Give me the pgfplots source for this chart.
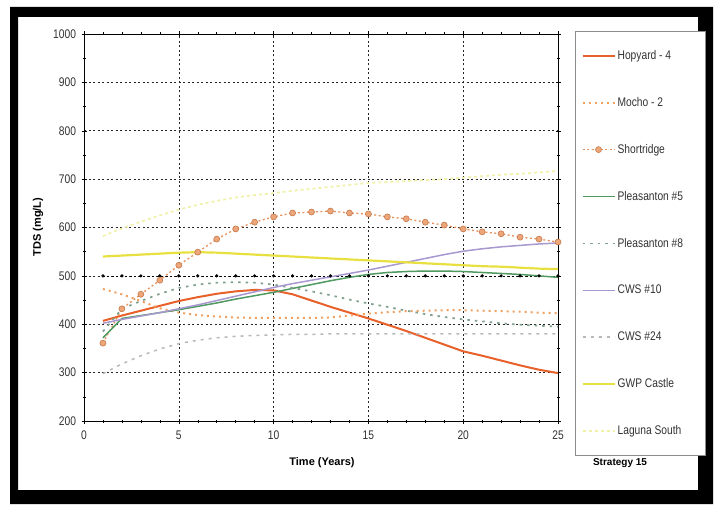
\documentclass[border=0pt]{standalone}
\usepackage{pgfplots}
\pgfplotsset{compat=1.18}
\usepackage{pgfplotstable}
\usepackage{fontspec}
\setmainfont{Liberation Sans}
\newfontfamily\narrowfont{Liberation Sans}[FakeStretch=0.82]
\definecolor{hop}{HTML}{E8602A}
\definecolor{mocho}{HTML}{F0A060}
\definecolor{shore}{HTML}{E8905A}
\definecolor{shorefill}{HTML}{EDA57A}
\definecolor{p5}{HTML}{4E9A60}
\definecolor{p8}{HTML}{7FA08A}
\definecolor{cws10}{HTML}{A898D0}
\definecolor{cws24}{HTML}{B8B8B8}
\definecolor{gwp}{HTML}{E8E040}
\definecolor{lag}{HTML}{F0F0A8}
\pgfplotstableread{
t hop mocho shore p5 p8 c10 c24 gwp lag
1 407 473 361 372 385 402 298 540 582
2 418 462 432 412 432 410 318 542 598
3 428 448 462 418 448 417 335 544 612
4 438 433 491 424 463 424 349 546 625
5 448 424 522 430 475 432 360 548 637
6 456 419 549 437 482 440 367 549 647
7 463 416 576 444 486 449 372 548 655
8 468 414 597 452 487 458 375 546 662
9 471 413 611 459 486 467 377 544 667
10 470 413 622 466 482 476 378 542 671
11 462 413 630 474 475 484 379 540 676
12 449 413 632 482 468 491 379 538 680
13 436 414 634 490 460 498 380 536 684
14 424 418 630 497 451 505 380 534 688
15 412 422 628 503 443 512 380 532 692
16 399 425 622 507 436 520 380 530 694
17 386 427 618 509 428 528 380 528 696
18 372 428 611 510 421 536 380 526 698
19 358 429 605 510 415 544 380 524 700
20 344 429 597 509 410 551 380 522 703
21 335 428 591 507 406 556 380 520 706
22 325 427 587 505 402 560 380 519 709
23 315 426 580 503 399 563 380 517 711
24 306 424 576 500 397 566 380 515 714
25 299 423 570 497 395 568 380 514 717
}\datatable
\pgfplotstableread{
t v
1 500
2 500
3 500
4 500
5 500
6 500
7 500
8 500
9 500
10 500
11 500
12 500
13 500
14 500
15 500
16 500
17 500
18 500
19 500
20 500
21 500
22 500
23 500
24 500
25 500
}\fivehundred
\begin{document}
\begin{tikzpicture}[x=1pt,y=1pt]
\path[use as bounding box] (0,0) rectangle (719,504);
\fill[black,even odd rule] (10,0) rectangle (713,497) (18,14) rectangle (698,487);
\begin{axis}[
  at={(84pt,83pt)}, anchor=south west,
  scale only axis, width=474pt, height=387pt,
  xmin=0, xmax=25, ymin=200, ymax=1000,
  xtick={0,5,...,25}, ytick={200,300,...,1000},
  minor x tick num=4, minor y tick num=1,
  tick align=center,
  tick style={black, line width=0.5pt},
  major tick length=5pt, minor tick length=3pt,
  grid=major,
  major grid style={black!85, dash pattern=on 2pt off 2.5pt, line width=0.6pt},
  axis line style={black, line width=0.8pt},
  /pgf/number format/assume math mode=true,
  /pgf/number format/1000 sep={},
  ticklabel style={font=\narrowfont\fontsize{12.5}{13}\selectfont, text=black!80},
  yticklabel style={xshift=-2pt},
  xticklabel style={yshift=-4pt},
  legend style={at={(1.0359,1.0078)}, anchor=north west,
    draw=black!45, line width=0.8pt, fill=white,
    font=\narrowfont\fontsize{12.5}{13}\selectfont, text=black!80,
    row sep=32.4pt, inner xsep=6pt, inner ysep=17pt,
    cells={anchor=west}},
  legend image code/.code={\draw[mark repeat=2,mark phase=2,#1] plot coordinates {(0pt,0pt) (16pt,0pt) (32pt,0pt)};},
]
\addplot[forget plot, black, line width=0.6pt, dash pattern=on 2pt off 2.5pt, mark=*, mark size=1.3pt, mark options={solid}] table[x=t,y=v] {\fivehundred};
\addplot[hop, line width=2pt] table[x=t,y=hop] {\datatable};
\addlegendentry{\makebox[80pt][l]{Hopyard - 4}}
\addplot[mocho, line width=2pt, dash pattern=on 2pt off 4pt] table[x=t,y=mocho] {\datatable};
\addlegendentry{\makebox[80pt][l]{Mocho - 2}}
\addplot[shore, line width=1.3pt, dash pattern=on 2pt off 2.5pt, mark=*, mark size=3pt, mark options={solid, fill=shorefill, draw=shore!85!black, line width=0.6pt}] table[x=t,y=shore] {\datatable};
\addlegendentry{\makebox[80pt][l]{Shortridge}}
\addplot[p5, line width=1.5pt] table[x=t,y=p5] {\datatable};
\addlegendentry{\makebox[80pt][l]{Pleasanton \#5}}
\addplot[p8, line width=1.7pt, dash pattern=on 2.5pt off 5pt] table[x=t,y=p8] {\datatable};
\addlegendentry{\makebox[80pt][l]{Pleasanton \#8}}
\addplot[cws10, line width=1.5pt] table[x=t,y=c10] {\datatable};
\addlegendentry{\makebox[80pt][l]{CWS \#10}}
\addplot[cws24, line width=1.5pt, dash pattern=on 3pt off 5pt] table[x=t,y=c24] {\datatable};
\addlegendentry{\makebox[80pt][l]{CWS \#24}}
\addplot[gwp, line width=2.2pt] table[x=t,y=gwp] {\datatable};
\addlegendentry{\makebox[80pt][l]{GWP Castle}}
\addplot[lag, line width=1.7pt, dash pattern=on 3pt off 3pt] table[x=t,y=lag] {\datatable};
\addlegendentry{\makebox[80pt][l]{Laguna South}}
\end{axis}
\node[font=\bfseries\fontsize{11}{12}\selectfont] at (322,41) {Time (Years)};
\node[font=\bfseries\fontsize{11}{12}\selectfont, rotate=90] at (38,277) {TDS (mg/L)};
\node[font=\bfseries\fontsize{10}{12}\selectfont] at (620,41) {Strategy 15};
\end{tikzpicture}
\end{document}
